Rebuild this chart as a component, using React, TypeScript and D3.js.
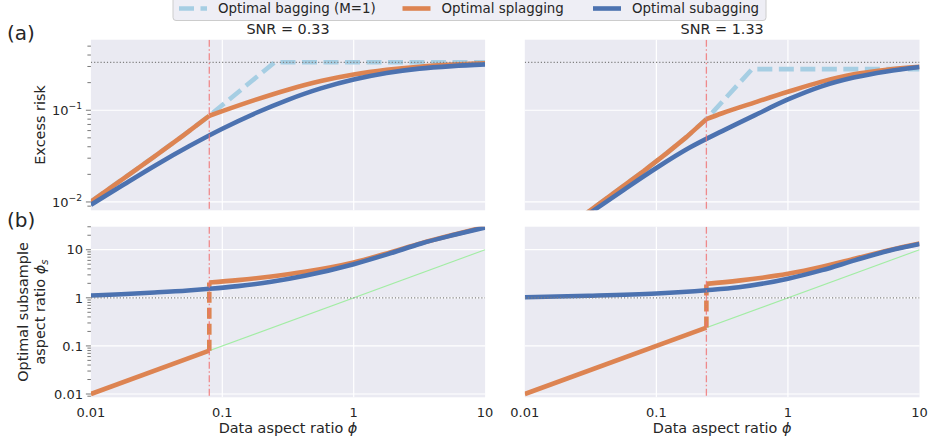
import React from 'react';
import * as d3 from 'd3';

// ---------- data ----------
const xTicks = [0.01, 0.1, 1, 10];
const xTickLabels = ['0.01', '0.1', '1', '10'];
const riskTicks = [0.01, 0.1];
const riskTickExp = ['−2', '−1'];
const ratioTicks = [0.01, 0.1, 1, 10];
const ratioTickLabels = ['0.01', '0.1', '1', '10'];

const snrTitles = ['SNR = 0.33', 'SNR = 1.33'];
const thresholds = [0.0796, 0.24];
const nullRisk = [0.333, 0.333];

const legendLabels = ['Optimal bagging (M=1)', 'Optimal splagging', 'Optimal subagging'];

// (a) excess risk, SNR = 0.33
const bagPhiL = [0.01, 0.02, 0.03, 0.05, 0.0796, 0.25, 10];
const bagRiskL = [0.0101, 0.0204, 0.0309, 0.0526, 0.087, 0.333, 0.333];
const splagPhiL = [0.01, 0.02, 0.03, 0.05, 0.0796, 0.1, 0.178, 0.316, 0.562, 1, 1.78, 3.16, 5.62, 10];
const splagRiskL = [0.0101, 0.0204, 0.0309, 0.0526, 0.087, 0.0977, 0.1296, 0.1674, 0.208, 0.245, 0.2754, 0.2985, 0.3145, 0.3245];
const subPhiL = [0.01, 0.0178, 0.0316, 0.0562, 0.1, 0.178, 0.316, 0.562, 1, 1.78, 3.16, 5.62, 10];
const subRiskL = [0.0093, 0.0155, 0.0255, 0.0407, 0.0628, 0.0927, 0.13, 0.173, 0.216, 0.2545, 0.284, 0.303, 0.316];

// (a) excess risk, SNR = 1.33
const bagPhiR = [0.01, 0.02, 0.03, 0.05, 0.08, 0.12, 0.17, 0.24, 0.534, 10];
const bagRiskR = [0.00253, 0.0051, 0.0077, 0.0132, 0.0217, 0.0341, 0.0512, 0.08, 0.281, 0.281];
const splagPhiR = [0.01, 0.02, 0.03, 0.05, 0.08, 0.12, 0.17, 0.24, 0.316, 0.562, 1, 1.78, 3.16, 5.62, 10];
const splagRiskR = [0.00253, 0.0051, 0.0077, 0.0132, 0.0217, 0.0341, 0.0512, 0.08, 0.0927, 0.1219, 0.159, 0.2037, 0.2463, 0.2763, 0.2979];
const subPhiR = [0.01, 0.0316, 0.0562, 0.1, 0.178, 0.316, 0.562, 1, 1.78, 3.16, 5.62, 10];
const subRiskR = [0.0024, 0.00767, 0.01349, 0.02344, 0.0389, 0.0592, 0.0885, 0.131, 0.1811, 0.227, 0.265, 0.296];

// (b) optimal subsample aspect ratio, SNR = 0.33
const splagRatioPhiL = [0.01, 0.0796, 0.0796, 0.1315, 0.236, 0.424, 1, 1.82, 3.27, 5.85, 10];
const splagRatioL = [0.01, 0.0796, 2.08, 2.33, 2.78, 3.47, 5.43, 8.5, 13.7, 20.8, 29.9];
const subRatioPhiL = [0.01, 0.017, 0.0305, 0.0548, 0.08, 0.1315, 0.236, 0.424, 1, 1.82, 3.27, 5.85, 10];
const subRatioL = [1.118, 1.19, 1.29, 1.42, 1.54, 1.75, 2.15, 2.87, 5.0, 8.09, 13.5, 20.4, 29];

// (b) optimal subsample aspect ratio, SNR = 1.33
const splagRatioPhiR = [0.01, 0.24, 0.24, 0.4226, 1, 1.82, 3.26, 5.84, 10];
const splagRatioR = [0.01, 0.24, 1.95, 2.28, 3.15, 4.41, 6.57, 9.8, 13.5];
const subRatioPhiR = [0.01, 0.0306, 0.1, 0.24, 0.4226, 1, 1.82, 3.26, 5.84, 10];
const subRatioR = [1.03, 1.1, 1.23, 1.44, 1.66, 2.5, 3.76, 6.07, 9.5, 13.1];

const diagPhi = [0.01, 10];
const diagRatio = [0.01, 10];

// ---------- style ----------
const FONT = '"DejaVu Sans", sans-serif';
const TEXT = '#262626';
const BG = '#eaeaf2';
const C_BAG = '#a6cee3';
const C_SPLAG = '#dd8452';
const C_SUB = '#4c72b0';
const LW = 4.6;

type Pt = [number, number];
const zip = (a: number[], b: number[]): Pt[] => a.map((v, i) => [v, b[i]]);

const colX: [number, number][] = [[90.9, 485.1], [524.8, 919.5]];
const topY: [number, number] = [39.7, 210.3];
const botY: [number, number] = [226.7, 397.3];
const riskDomain: [number, number] = [0.00811, 0.5876];
const ratioDomain: [number, number] = [0.00854, 30.1];

interface PanelProps {
  id: string;
  xr: [number, number];
  yr: [number, number];
  yDomain: [number, number];
  kind: 'risk' | 'ratio';
  showY: boolean;
  showX: boolean;
  thr: number;
  hline: number;
  bag?: Pt[];
  splag: Pt[];
  sub: Pt[];
  diag?: Pt[];
}

function Panel(p: PanelProps) {
  const x = d3.scaleLog().domain([0.01, 10]).range(p.xr);
  const y = d3.scaleLog().domain(p.yDomain).range([p.yr[1], p.yr[0]]);
  const lin = d3.line<Pt>().x(d => x(d[0])).y(d => y(d[1]));
  const mono = d3.line<Pt>().x(d => x(d[0])).y(d => y(d[1])).curve(d3.curveMonotoneX);

  const idx = p.splag.findIndex(d => d[0] === p.thr);
  let lower: Pt[], upper: Pt[], jump: Pt[] | null = null;
  if (p.kind === 'ratio') {
    lower = p.splag.slice(0, idx + 1);
    jump = p.splag.slice(idx, idx + 2);
    upper = p.splag.slice(idx + 1);
  } else {
    lower = p.splag.slice(0, idx + 1);
    upper = p.splag.slice(idx);
  }

  const majors = p.kind === 'risk' ? riskTicks : ratioTicks;
  const minors = y.ticks().filter(t => !majors.some(m => Math.abs(m - t) / m < 1e-6));
  const w = p.xr[1] - p.xr[0];
  const h = p.yr[1] - p.yr[0];

  return (
    <g>
      <defs>
        <clipPath id={p.id}>
          <rect x={p.xr[0]} y={p.yr[0]} width={w} height={h} />
        </clipPath>
      </defs>
      <rect x={p.xr[0]} y={p.yr[0]} width={w} height={h} fill={BG} />
      <g stroke="#ffffff" strokeWidth={1.2}>
        {xTicks.filter(t => t > 0.01 && t < 10).map(t => (
          <line key={'gx' + t} x1={x(t)} x2={x(t)} y1={p.yr[0]} y2={p.yr[1]} />
        ))}
        {majors.filter(t => y(t) > p.yr[0] && y(t) < p.yr[1]).map(t => (
          <line key={'gy' + t} x1={p.xr[0]} x2={p.xr[1]} y1={y(t)} y2={y(t)} />
        ))}
      </g>
      <g clipPath={`url(#${p.id})`} fill="none">
        {p.diag && (
          <path d={lin(p.diag) || ''} stroke="#90ee90" strokeWidth={1.1} strokeOpacity={0.8} />
        )}
        {p.bag && (
          <path d={lin(p.bag) || ''} stroke={C_BAG} strokeWidth={LW} strokeDasharray="15 6.5" />
        )}
        <path d={lin(lower) || ''} stroke={C_SPLAG} strokeWidth={LW} strokeLinejoin="round" />
        {jump && (
          <path d={lin(jump) || ''} stroke={C_SPLAG} strokeWidth={LW} strokeDasharray="11 5" />
        )}
        <path d={mono(upper) || ''} stroke={C_SPLAG} strokeWidth={LW} strokeLinejoin="round" />
        <path d={mono(p.sub) || ''} stroke={C_SUB} strokeWidth={LW} strokeLinejoin="round" />
        <line x1={p.xr[0]} x2={p.xr[1]} y1={y(p.hline)} y2={y(p.hline)} stroke="#808080"
          strokeWidth={1.2} strokeDasharray="1.2 2" />
        <line x1={x(p.thr)} x2={x(p.thr)} y1={p.yr[0]} y2={p.yr[1]} stroke="#f07070"
          strokeOpacity={0.8} strokeWidth={1.3} strokeDasharray="7 2.5 1.5 2.5" />
      </g>
      {p.showY && (
        <g>
          <g stroke="#555" strokeWidth={0.8}>
            {minors.map(t => (
              <line key={'mt' + t} x1={p.xr[0] - 3.5} x2={p.xr[0]} y1={y(t)} y2={y(t)} />
            ))}
            {majors.map(t => (
              <line key={'Mt' + t} x1={p.xr[0] - 5} x2={p.xr[0]} y1={y(t)} y2={y(t)} />
            ))}
          </g>
          <g fontFamily={FONT} fill={TEXT} fontSize={13}>
            {majors.map((t, i) =>
              p.kind === 'risk' ? (
                <text key={'yl' + t} x={82} y={y(t) + 4.7} textAnchor="end">
                  <tspan>10</tspan>
                  <tspan dy={-5.5} fontSize={9.2}>{riskTickExp[i]}</tspan>
                </text>
              ) : (
                <text key={'yl' + t} x={83} y={y(t) + 4.7} textAnchor="end">
                  {ratioTickLabels[i]}
                </text>
              )
            )}
          </g>
        </g>
      )}
      {p.showX && (
        <g fontFamily={FONT} fill={TEXT} fontSize={13} textAnchor="middle">
          {xTicks.map((t, i) => (
            <text key={'xl' + t} x={x(t)} y={417}>{xTickLabels[i]}</text>
          ))}
          <text x={(p.xr[0] + p.xr[1]) / 2} y={433} fontSize={14.4}>
            Data aspect ratio <tspan fontStyle="italic">ϕ</tspan>
          </text>
        </g>
      )}
    </g>
  );
}

export default function App() {
  const legendX = [179, 402.5, 593];
  const legendColors = [C_BAG, C_SPLAG, C_SUB];
  return (
    <svg width={930} height={444} style={{ position: 'absolute', left: 0, top: 0, background: '#fff' }}>
      <Panel id="c0" xr={colX[0]} yr={topY} yDomain={riskDomain} kind="risk" showY={true} showX={false}
        thr={thresholds[0]} hline={nullRisk[0]}
        bag={zip(bagPhiL, bagRiskL)} splag={zip(splagPhiL, splagRiskL)} sub={zip(subPhiL, subRiskL)} />
      <Panel id="c1" xr={colX[1]} yr={topY} yDomain={riskDomain} kind="risk" showY={false} showX={false}
        thr={thresholds[1]} hline={nullRisk[1]}
        bag={zip(bagPhiR, bagRiskR)} splag={zip(splagPhiR, splagRiskR)} sub={zip(subPhiR, subRiskR)} />
      <Panel id="c2" xr={colX[0]} yr={botY} yDomain={ratioDomain} kind="ratio" showY={true} showX={true}
        thr={thresholds[0]} hline={1}
        diag={zip(diagPhi, diagRatio)} splag={zip(splagRatioPhiL, splagRatioL)} sub={zip(subRatioPhiL, subRatioL)} />
      <Panel id="c3" xr={colX[1]} yr={botY} yDomain={ratioDomain} kind="ratio" showY={false} showX={true}
        thr={thresholds[1]} hline={1}
        diag={zip(diagPhi, diagRatio)} splag={zip(splagRatioPhiR, splagRatioR)} sub={zip(subRatioPhiR, subRatioR)} />

      <g fontFamily={FONT} fill={TEXT}>
        <text x={(colX[0][0] + colX[0][1]) / 2} y={34} fontSize={14.4} textAnchor="middle">{snrTitles[0]}</text>
        <text x={(colX[1][0] + colX[1][1]) / 2} y={34} fontSize={14.4} textAnchor="middle">{snrTitles[1]}</text>
        <text x={7} y={40} fontSize={20}>(a)</text>
        <text x={7} y={227} fontSize={20}>(b)</text>
        <text transform={`translate(45,${(topY[0] + topY[1]) / 2}) rotate(-90)`} fontSize={14.4} textAnchor="middle">
          Excess risk
        </text>
        <text transform={`translate(28,${(botY[0] + botY[1]) / 2}) rotate(-90)`} fontSize={14.4} textAnchor="middle">
          Optimal subsample
        </text>
        <text transform={`translate(45,${(botY[0] + botY[1]) / 2}) rotate(-90)`} fontSize={14.4} textAnchor="middle">
          aspect ratio <tspan fontStyle="italic">ϕ</tspan><tspan fontStyle="italic" fontSize={10} dy={3}>s</tspan>
        </text>
      </g>

      <g>
        <rect x={173} y={-4} width={593} height={24.5} rx={3} fill={BG} fillOpacity={0.8} stroke="#cccccc" strokeWidth={1} />
        {legendLabels.map((lab, i) => (
          <g key={lab}>
            <line x1={legendX[i]} x2={legendX[i] + 28} y1={8.5} y2={8.5} stroke={legendColors[i]} strokeWidth={LW}
              strokeDasharray={i === 0 ? '15 6.5' : undefined} />
            <text x={legendX[i] + 39} y={13.2} fontFamily={FONT} fontSize={13.4} fill={TEXT}>{lab}</text>
          </g>
        ))}
      </g>
    </svg>
  );
}
